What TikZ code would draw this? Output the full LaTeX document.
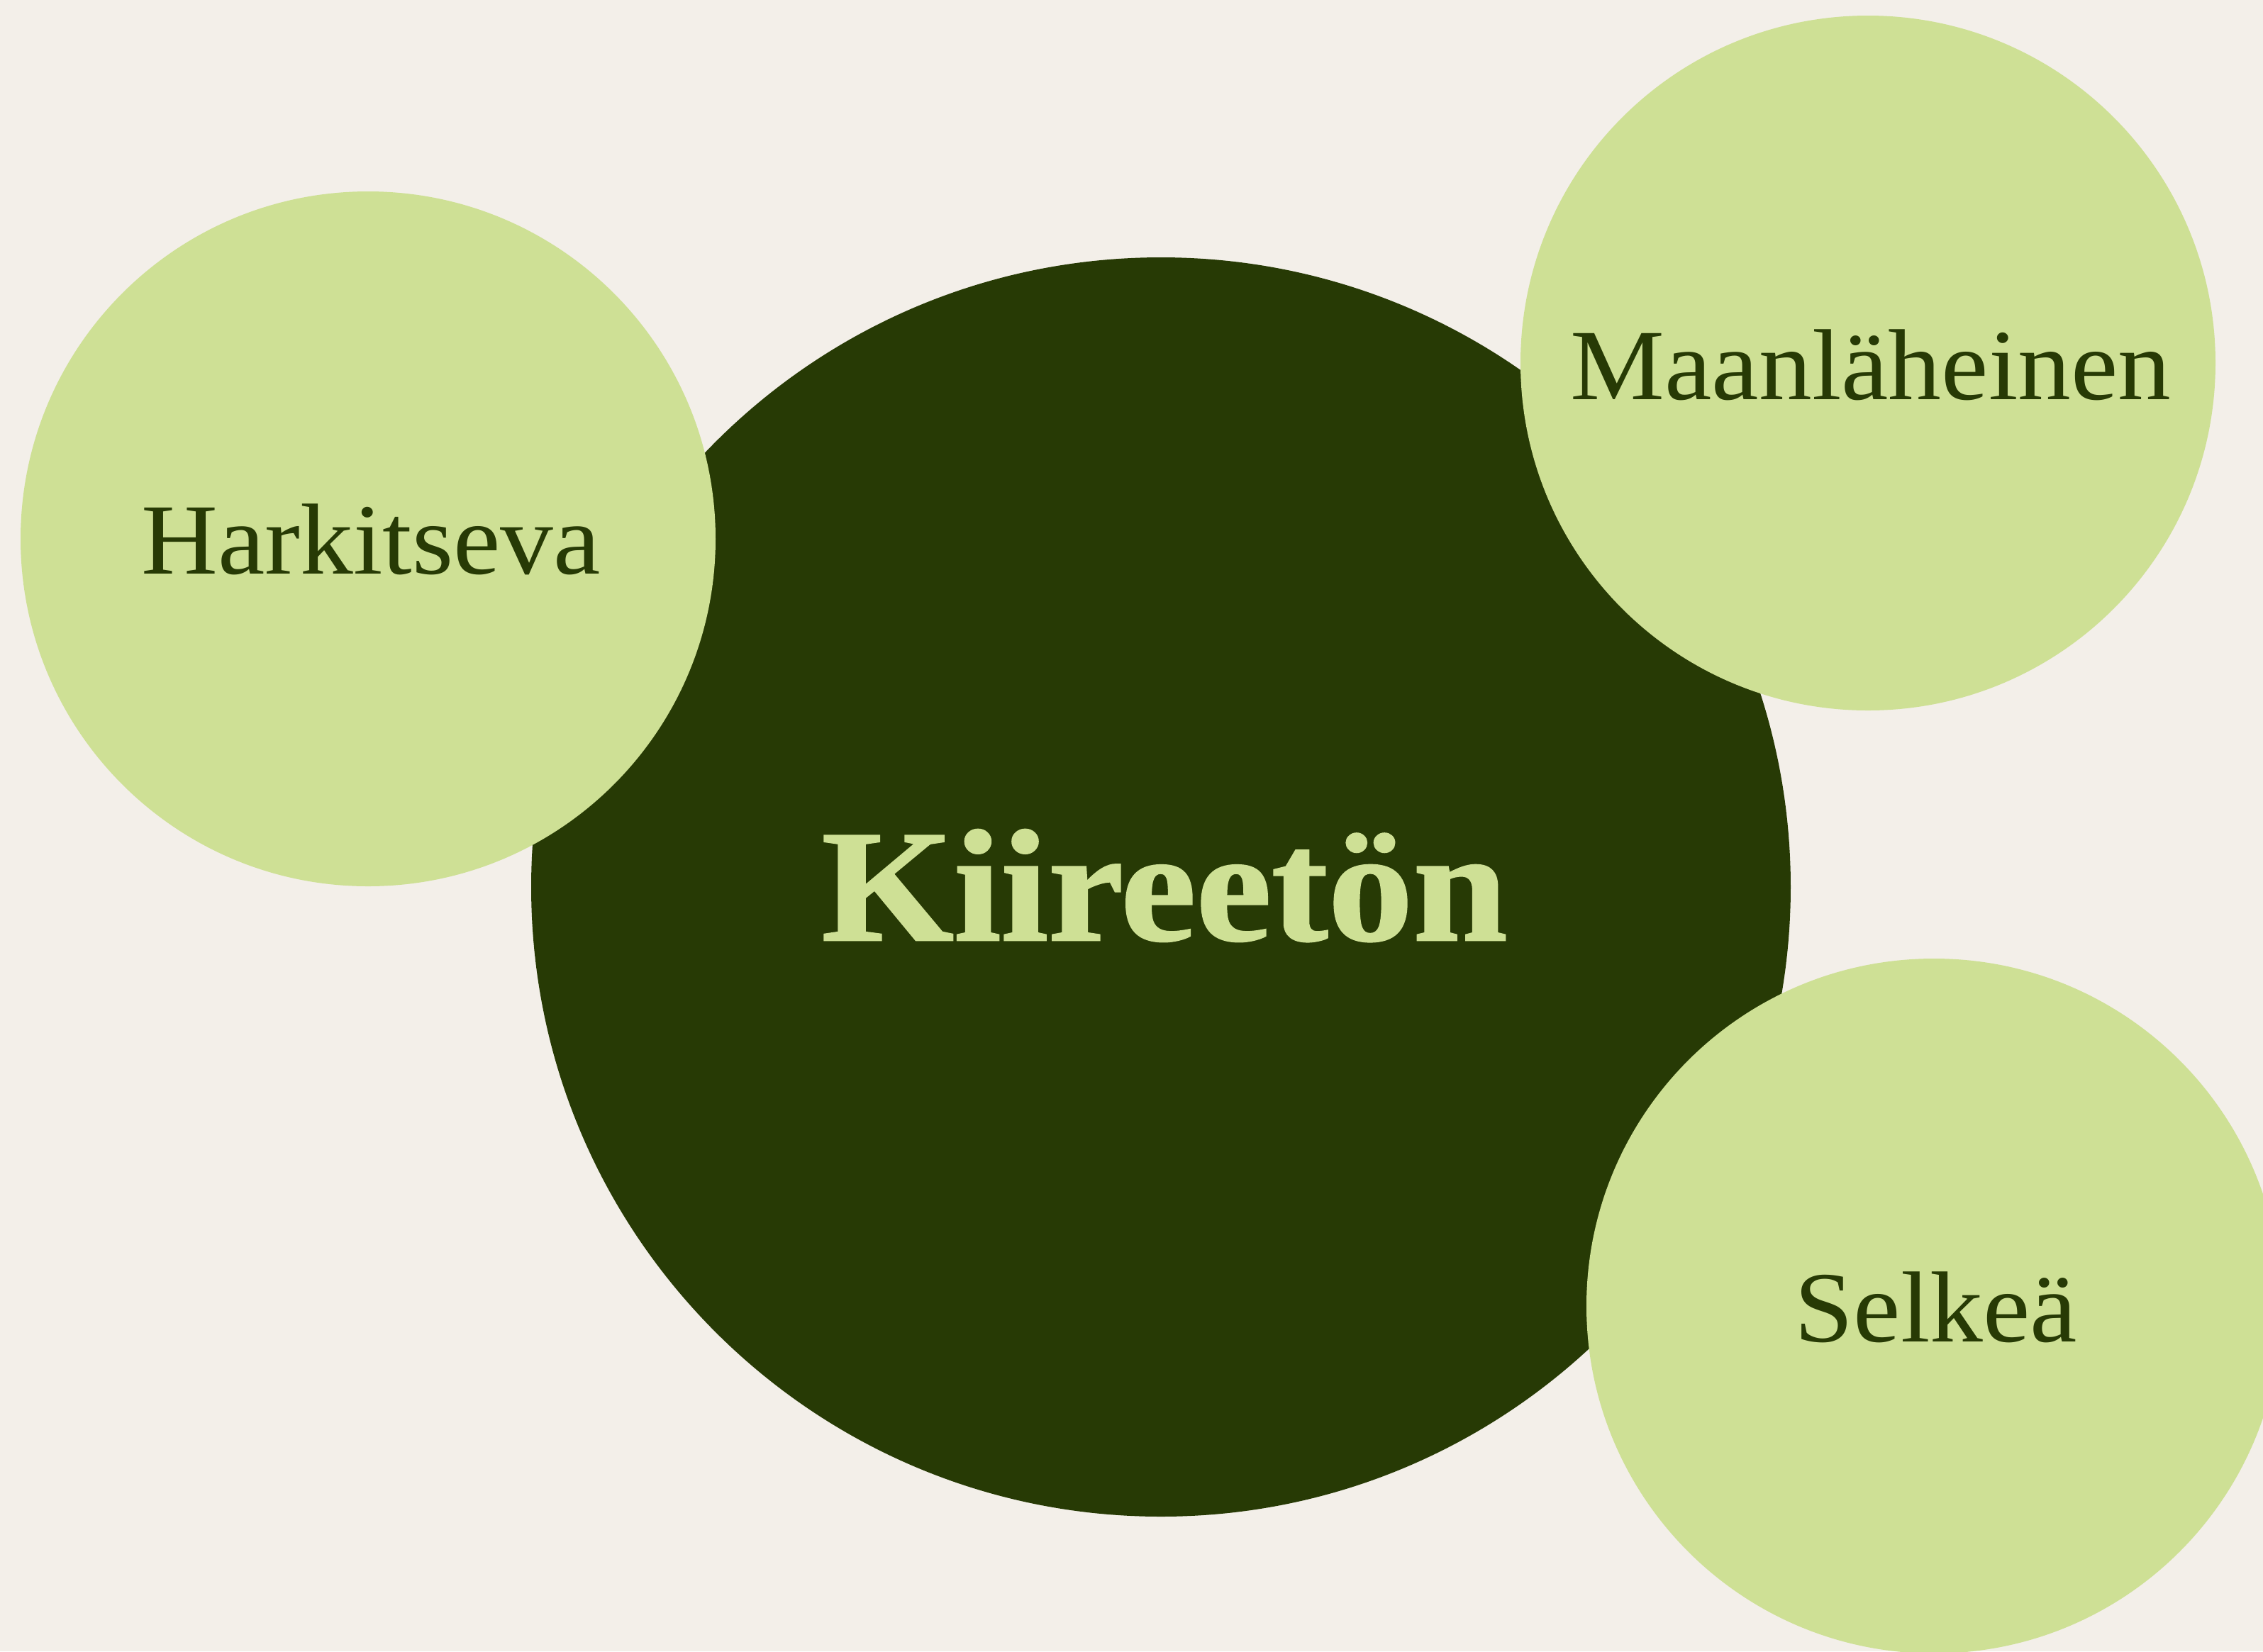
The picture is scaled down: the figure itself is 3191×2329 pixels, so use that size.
\documentclass[tikz,border=0pt]{standalone}
\usepackage{fontspec}
\setmainfont{Liberation Serif}[FakeStretch=1.05]
\newfontfamily\titlefont{Liberation Serif Bold}[FakeStretch=1.065,FakeBold=1.2]
\definecolor{bg}{HTML}{F3EFE9}
\definecolor{light}{HTML}{CEE095}
\definecolor{dark}{HTML}{273A05}
\tikzset{
  bubble/.style={circle, fill=light, minimum size=98mm, inner sep=0pt},
  core/.style={circle, fill=dark, minimum size=177.6mm, inner sep=0pt},
  label/.style={anchor=base, inner sep=0pt, text=dark, font=\fontsize{40.5}{44}\selectfont},
  title/.style={anchor=base, inner sep=0pt, text=light, font=\fontsize{64}{70}\selectfont\titlefont}
}
\begin{document}
\begin{tikzpicture}[x=0.1mm,y=-0.1mm]
\useasboundingbox (0,0) rectangle (3191,2329);
\clip (0,0) rectangle (3191,2329);
\fill[bg] (0,0) rectangle (3191,2329);
\node[core] (kiireeton) at (1637,1251) {};
\node[bubble] (harkitseva) at (519,760) {};
\node[bubble] (maanlaheinen) at (2634,512) {};
\node[bubble] (selkea) at (2727,1842) {};
\node[title] (tk) at (1642,1326) {Kiireetön};
\node[label] (th) at (523,809) {Harkitseva};
\node[label] (tm) at (2638,563) {Maanläheinen};
\node[label] (ts) at (2730,1892) {Selkeä};
\end{tikzpicture}
\end{document}
